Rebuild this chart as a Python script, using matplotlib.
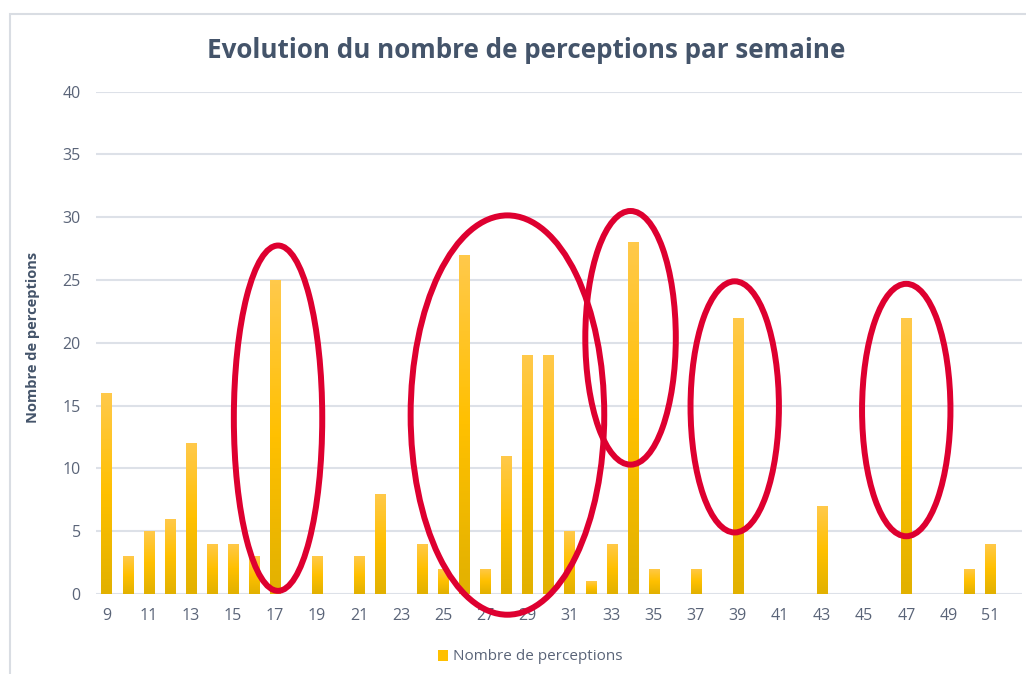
import numpy as np
import matplotlib
matplotlib.use("Agg")
import matplotlib.pyplot as plt
from matplotlib.patches import Ellipse, Rectangle
from matplotlib.colors import LinearSegmentedColormap

plt.rcParams['font.family'] = ['Open Sans', 'DejaVu Sans']

weeks = list(range(9, 53))
values = [16, 3, 5, 6, 12, 4, 4, 3, 25, 0, 3, 0, 3, 8, 0, 4, 2, 27, 2, 11,
          19, 19, 5, 1, 4, 28, 2, 0, 2, 0, 22, 0, 0, 0, 7, 0, 0, 0, 22, 0,
          0, 2, 4, 0]
tick_weeks = list(range(9, 52, 2))
series_name = "Nombre de perceptions"
title = "Evolution du nombre de perceptions par semaine"
ylabel = "Nombre de perceptions"
# highlight ellipses: (center week, center value, width in weeks, height in values)
highlights_x = [17.15, 28.05, 33.9, 38.85, 47.0]
highlights_y = [14.0, 14.25, 20.4, 14.9, 14.65]
highlights_w = [4.2, 9.2, 4.3, 4.2, 4.2]
highlights_h = [27.5, 31.8, 20.2, 20.0, 20.1]

W, H = 1026, 674
fig = plt.figure(figsize=(W / 100, H / 100), dpi=100)
fig.patch.set_facecolor('white')

# chart frame
fig.patches.append(Rectangle((10 / W, -0.1), 1.2, (H - 14) / H + 0.1,
                             transform=fig.transFigure, fill=False,
                             edgecolor='#D9DDE3', lw=1.5))

ax = fig.add_axes([96 / W, (H - 594) / H, (1022 - 96) / W, (594 - 91.7) / H])
ax.set_facecolor('none')

bars = ax.bar(weeks, values, width=0.48, color='#FFC000', label=series_name, zorder=2)

cmap = LinearSegmentedColormap.from_list('gold', ['#E2B100', '#FFC000', '#FFC94A'])
grad = np.linspace(0, 1, 64).reshape(-1, 1)
for b in bars:
    h = b.get_height()
    if h <= 0:
        continue
    x0 = b.get_x()
    im = ax.imshow(grad, extent=[x0, x0 + b.get_width(), 0, h], origin='lower',
                   aspect='auto', cmap=cmap, zorder=3, interpolation='bilinear')
    im.set_clip_path(b)

for cx, cy, ew, eh in zip(highlights_x, highlights_y, highlights_w, highlights_h):
    ax.add_patch(Ellipse((cx, cy), ew, eh, fill=False, edgecolor='#DE0030',
                         lw=4.3, zorder=5, clip_on=False))

ax.set_xlim(8.5, 52.5)
ax.set_ylim(0, 40)
ax.set_yticks(range(0, 41, 5))
ax.set_xticks(tick_weeks)
ax.set_xticklabels([str(t) for t in tick_weeks])
ax.tick_params(axis='both', length=0, labelsize=11.5, labelcolor='#5A6478')
ax.tick_params(axis='x', pad=10)
ax.tick_params(axis='y', pad=11)
ax.grid(axis='y', color='#DDE1E8', lw=1.5, zorder=0)
ax.set_axisbelow(True)
for s in ax.spines.values():
    s.set_visible(False)

fig.text(526 / W, 1 - 50 / H, title, ha='center', va='center', fontsize=18.7,
         fontweight='bold', color='#44546A')
fig.text(33 / W, 1 - 337 / H, ylabel, ha='center', va='center', rotation=90,
         fontsize=10.5, fontweight='bold', color='#44546A')

leg = ax.legend(loc='center', bbox_to_anchor=(530 / W, 1 - 657 / H),
                bbox_transform=fig.transFigure, frameon=False, fontsize=11,
                handlelength=0.7, handleheight=0.7, handletextpad=0.3)
for t in leg.get_texts():
    t.set_color('#5A6478')

fig.savefig('out.png', dpi=100, facecolor='white')
